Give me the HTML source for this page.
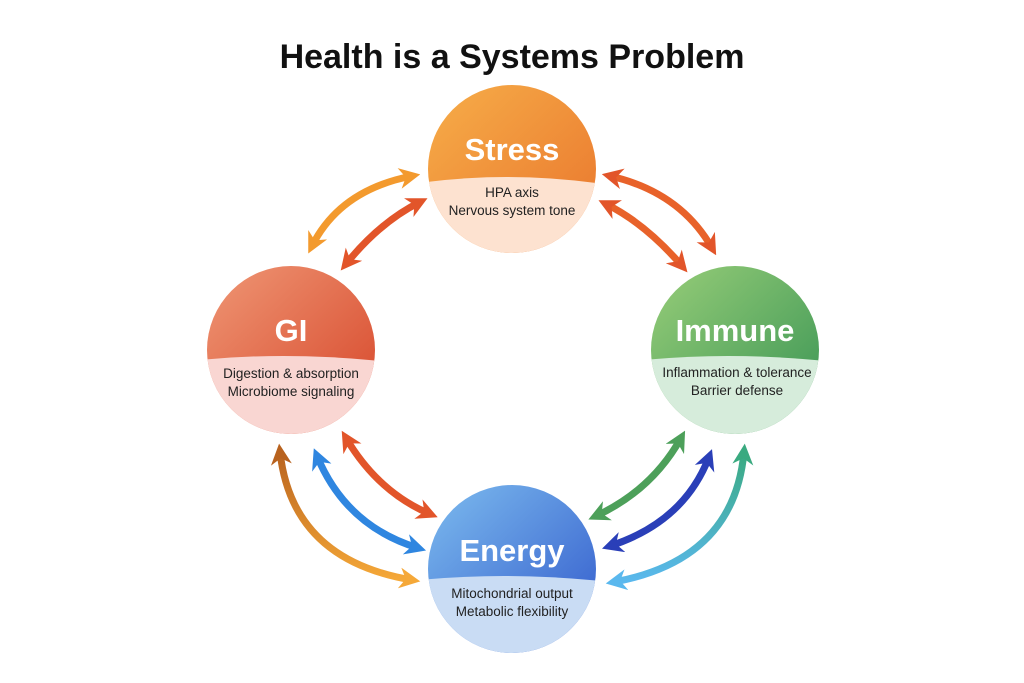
<!DOCTYPE html>
<html><head><meta charset="utf-8"><style>
html,body{margin:0;padding:0;background:#fff;}
svg{display:block;font-family:"Liberation Sans",sans-serif;}
</style></head><body>
<svg width="1024" height="683" viewBox="0 0 1024 683" xmlns="http://www.w3.org/2000/svg">
<defs>
<linearGradient id="gS" x1="0" y1="0" x2="1" y2="1"><stop offset="0" stop-color="#f7b04a"/><stop offset="1" stop-color="#e8702a"/></linearGradient>
<linearGradient id="gG" x1="0" y1="0" x2="1" y2="1"><stop offset="0" stop-color="#f09a78"/><stop offset="1" stop-color="#d43e22"/></linearGradient>
<linearGradient id="gI" x1="0" y1="0" x2="1" y2="1"><stop offset="0" stop-color="#9cd07a"/><stop offset="1" stop-color="#2f8e50"/></linearGradient>
<linearGradient id="gE" x1="0" y1="0" x2="1" y2="1"><stop offset="0" stop-color="#80c0f0"/><stop offset="1" stop-color="#2a50c8"/></linearGradient>
<linearGradient id="gBr" x1="0" y1="0" x2="0" y2="1"><stop offset="0" stop-color="#b8621e"/><stop offset="1" stop-color="#f5a838"/></linearGradient>
<linearGradient id="gTe" x1="0" y1="0" x2="0" y2="1"><stop offset="0" stop-color="#3aaa80"/><stop offset="1" stop-color="#5ab8ee"/></linearGradient>
<marker id="mO" viewBox="0 0 10 10" refX="6" refY="5" markerWidth="3" markerHeight="3" orient="auto-start-reverse"><path d="M0,0 L10,5 L0,10 L3,5z" fill="#f39a2e"/></marker>
<marker id="mR" viewBox="0 0 10 10" refX="6" refY="5" markerWidth="3" markerHeight="3" orient="auto-start-reverse"><path d="M0,0 L10,5 L0,10 L3,5z" fill="#e2552a"/></marker>
<marker id="mB" viewBox="0 0 10 10" refX="6" refY="5" markerWidth="3" markerHeight="3" orient="auto-start-reverse"><path d="M0,0 L10,5 L0,10 L3,5z" fill="#2f86e0"/></marker>
<marker id="mG" viewBox="0 0 10 10" refX="6" refY="5" markerWidth="3" markerHeight="3" orient="auto-start-reverse"><path d="M0,0 L10,5 L0,10 L3,5z" fill="#4da05a"/></marker>
<marker id="mD" viewBox="0 0 10 10" refX="6" refY="5" markerWidth="3" markerHeight="3" orient="auto-start-reverse"><path d="M0,0 L10,5 L0,10 L3,5z" fill="#2a3fb8"/></marker>
<marker id="mBr" viewBox="0 0 10 10" refX="6" refY="5" markerWidth="3" markerHeight="3" orient="auto-start-reverse"><path d="M0,0 L10,5 L0,10 L3,5z" fill="#b8621e"/></marker>
<marker id="mOr" viewBox="0 0 10 10" refX="6" refY="5" markerWidth="3" markerHeight="3" orient="auto-start-reverse"><path d="M0,0 L10,5 L0,10 L3,5z" fill="#f5a838"/></marker>
<marker id="mTe" viewBox="0 0 10 10" refX="6" refY="5" markerWidth="3" markerHeight="3" orient="auto-start-reverse"><path d="M0,0 L10,5 L0,10 L3,5z" fill="#3aaa80"/></marker>
<marker id="mLb" viewBox="0 0 10 10" refX="6" refY="5" markerWidth="3" markerHeight="3" orient="auto-start-reverse"><path d="M0,0 L10,5 L0,10 L3,5z" fill="#5ab8ee"/></marker>
<clipPath id="cS"><circle cx="512" cy="169" r="84"/></clipPath>
<clipPath id="cG"><circle cx="291" cy="350" r="84"/></clipPath>
<clipPath id="cI"><circle cx="735" cy="350" r="84"/></clipPath>
<clipPath id="cE"><circle cx="512" cy="569" r="84"/></clipPath>
</defs>

<text x="512" y="68" text-anchor="middle" font-size="34" font-weight="bold" fill="#111">Health is a Systems Problem</text>

<g fill="none" stroke-width="7" stroke-linecap="butt">
<path d="M412,176 Q340,190 312,246" stroke="#f39a2e" marker-start="url(#mO)" marker-end="url(#mO)"/>
<path d="M420,202 Q380,222 346,264" stroke="#e2552a" marker-start="url(#mR)" marker-end="url(#mR)"/>
<path d="M610,176 Q680,192 712,248" stroke="#e8622a" marker-start="url(#mR)" marker-end="url(#mR)"/>
<path d="M606,204 Q646,224 682,266" stroke="#e8622a" marker-start="url(#mR)" marker-end="url(#mR)"/>
<path d="M346,438 Q378,492 430,514" stroke="#e2552a" marker-start="url(#mR)" marker-end="url(#mR)"/>
<path d="M317,456 Q346,526 418,548" stroke="#2f86e0" marker-start="url(#mB)" marker-end="url(#mB)"/>
<path d="M280,452 Q292,560 412,580" stroke="url(#gBr)" marker-start="url(#mBr)" marker-end="url(#mOr)"/>
<path d="M681,438 Q652,490 596,516" stroke="#4da05a" marker-start="url(#mG)" marker-end="url(#mG)"/>
<path d="M709,457 Q684,522 610,546" stroke="#2a3fb8" marker-start="url(#mD)" marker-end="url(#mD)"/>
<path d="M744,452 Q734,560 614,582" stroke="url(#gTe)" marker-start="url(#mTe)" marker-end="url(#mLb)"/>
</g>

<g clip-path="url(#cS)"><rect x="420" y="80" width="190" height="180" fill="url(#gS)"/><path d="M420,183 Q512,170 610,185 L610,260 L420,260z" fill="#fde2d0"/></g>
<g clip-path="url(#cG)"><rect x="200" y="260" width="190" height="180" fill="url(#gG)"/><path d="M200,360 Q291,351 390,362 L390,440 L200,440z" fill="#f9d6d2"/></g>
<g clip-path="url(#cI)"><rect x="645" y="260" width="190" height="180" fill="url(#gI)"/><path d="M645,360 Q735,351 835,362 L835,440 L645,440z" fill="#d6ecdb"/></g>
<g clip-path="url(#cE)"><rect x="420" y="480" width="190" height="180" fill="url(#gE)"/><path d="M420,580 Q512,571 610,582 L610,660 L420,660z" fill="#c9dcf4"/></g>

<g fill="#fff" font-weight="bold" font-size="31" text-anchor="middle">
<text x="512" y="160">Stress</text>
<text x="291" y="341">GI</text>
<text x="735" y="341">Immune</text>
<text x="512" y="561">Energy</text>
</g>
<g fill="#222" font-size="13.5" text-anchor="middle">
<text x="512" y="197">HPA axis</text>
<text x="512" y="215">Nervous system tone</text>
<text x="291" y="378">Digestion &amp; absorption</text>
<text x="291" y="396">Microbiome signaling</text>
<text x="737" y="377">Inflammation &amp; tolerance</text>
<text x="737" y="395">Barrier defense</text>
<text x="512" y="598">Mitochondrial output</text>
<text x="512" y="616">Metabolic flexibility</text>
</g>
</svg>
</body></html>
